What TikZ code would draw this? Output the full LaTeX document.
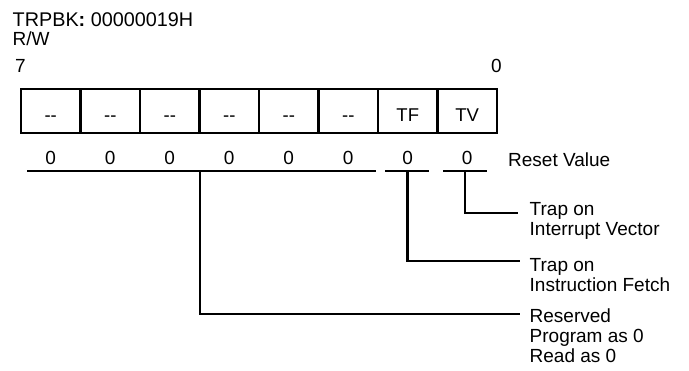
\documentclass[tikz,border=0pt]{standalone}
\usepackage{fontspec}
\setmainfont{Liberation Sans}
\begin{document}
\begin{tikzpicture}[x=1pt,y=-1pt,
  every node/.style={inner sep=0pt,font=\fontsize{19}{20}\selectfont},
  cell/.style={draw,line width=2.2pt,minimum width=59.5pt,minimum height=44pt,
    text height=21pt,text depth=0pt,anchor=center,font=\fontsize{18.5}{20}\selectfont},
  bit/.style={anchor=base},
  txt/.style={anchor=base west,align=left},
  wire/.style={line width=2.2pt}]
\useasboundingbox (0,0) rectangle (689,371);

% register name and access
\node[txt,font=\fontsize{19.8}{20}\selectfont] (title) at (12.5,26.7) {TRPBK\textbf{:} 00000019H};
\node[txt] (rw) at (12.5,45.7) {R/W};
\node[txt] (msb) at (15,73) {7};
\node[txt] (lsb) at (491,73) {0};

% bit cells
\foreach \i/\t in {0/{-}{-},1/{-}{-},2/{-}{-},3/{-}{-},4/{-}{-},5/{-}{-},6/TF,7/TV}{
  \node[cell] (c\i) at ({50.75+59.5*\i},111) {\t};
  \node[bit] (v\i) at ({50.75+59.5*\i},165) {0};
}
\node[txt] (reset) at (508,166.5) {Reset Value};

% field brackets below the reset values
\coordinate (resL) at (27,171);
\coordinate (resR) at (376,171);
\coordinate (tfL) at (385,171);
\coordinate (tfR) at (429,171);
\coordinate (tvL) at (443,171);
\coordinate (tvR) at (487,171);
\draw[wire] (resL) -- (resR);
\draw[wire] (tfL) -- (tfR);
\draw[wire] (tvL) -- (tvR);

% leaders to the field descriptions
\coordinate (resTap) at (200,171);
\coordinate (tfTap) at (407.5,171);
\coordinate (tvTap) at (465,171);
\coordinate (resEnd) at (520,314);
\coordinate (tfEnd) at (520,261);
\coordinate (tvEnd) at (518,213);
\draw[wire] (resTap) |- (resEnd);
\draw[wire] (tfTap) |- (tfEnd);
\draw[wire] (tvTap) |- (tvEnd);

% descriptions (base anchor sits on the last line)
\node[txt] (tvDesc) at (529.5,235.7) {Trap on\\Interrupt Vector};
\node[txt] (tfDesc) at (529.5,291.5) {Trap on\\Instruction Fetch};
\node[txt] (resDesc) at (529.5,363) {Reserved\\Program as 0\\Read as 0};
\end{tikzpicture}
\end{document}
